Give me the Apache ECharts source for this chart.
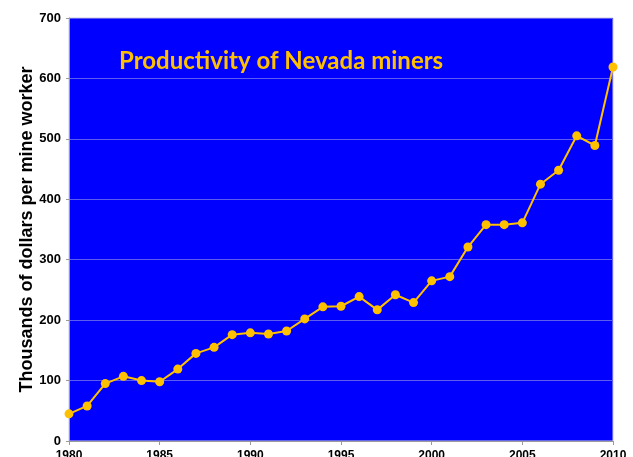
<!DOCTYPE html>
<html>
<head>
<meta charset="utf-8">
<script src="https://cdn.jsdelivr.net/npm/echarts@6/dist/echarts.min.js"></script>
<style>
  html, body { margin: 0; padding: 0; background: #fff; }
  #chart { width: 633px; height: 457px; }
</style>
</head>
<body>
<div id="chart"></div>
<script>
// productivity, thousands of dollars per mine worker
const years = [1980, 1981, 1982, 1983, 1984, 1985, 1986, 1987, 1988, 1989, 1990,
    1991, 1992, 1993, 1994, 1995, 1996, 1997, 1998, 1999, 2000,
    2001, 2002, 2003, 2004, 2005, 2006, 2007, 2008, 2009, 2010];
const values = [45, 58, 95, 107, 100, 98, 119, 145, 155, 176, 179,
    177, 182, 202, 222, 223, 239, 217, 242, 229, 265,
    272, 321, 358, 358, 361, 425, 448, 505, 489, 619];
const titleText = 'Productivity of Nevada miners';
const yName = 'Thousands of dollars per mine worker';

const gold = '#FFC000';
const chart = echarts.init(document.getElementById('chart'), null, { renderer: 'canvas' });

chart.setOption({
    animation: false,
    backgroundColor: '#ffffff',
    title: {
        text: titleText,
        left: 114,
        top: 44,
        textStyle: {
            color: gold,
            fontFamily: 'Lato',
            fontWeight: 'bold',
            fontSize: 24,
        },
    },
    grid: {
        left: 69,
        top: 18,
        right: 20,
        bottom: 16,
        outerBoundsMode: 'none',
        show: true,
        backgroundColor: '#0000FF',
        borderColor: '#c8c8e0',
        borderWidth: 1,
    },
    xAxis: {
        type: 'value',
        min: 1980,
        max: 2010,
        interval: 5,
        axisLine: { show: true, lineStyle: { color: '#9a9a9a', width: 1 } },
        axisTick: { show: true, length: 4, lineStyle: { color: '#9a9a9a' } },
        splitLine: { show: false },
        axisLabel: {
            color: '#000',
            fontFamily: 'Liberation Sans',
            fontWeight: 'bold',
            fontSize: 12,
            margin: 9,
            formatter: (v) => String(v),
        },
    },
    yAxis: {
        type: 'value',
        min: 0,
        max: 700,
        interval: 100,
        name: yName,
        nameLocation: 'middle',
        nameGap: 33,
        nameMoveOverlap: false,
        nameTextStyle: {
            color: '#000',
            fontFamily: 'Liberation Sans',
            fontWeight: 'bold',
            fontSize: 18,
        },
        axisLine: { show: true, lineStyle: { color: '#9a9a9a', width: 1 } },
        axisTick: { show: true, length: 3, lineStyle: { color: '#9a9a9a' } },
        splitLine: { show: true, lineStyle: { color: '#5c5cf0', width: 1 } },
        axisLabel: {
            color: '#000',
            fontFamily: 'Liberation Sans',
            fontWeight: 'bold',
            fontSize: 13,
            margin: 8,
        },
    },
    series: [
        {
            type: 'line',
            data: years.map((y, i) => [y, values[i]]),
            symbol: 'circle',
            symbolSize: 9,
            showAllSymbol: true,
            clip: false,
            lineStyle: { color: gold, width: 2 },
            itemStyle: { color: gold },
        },
    ],
});
</script>
</body>
</html>
